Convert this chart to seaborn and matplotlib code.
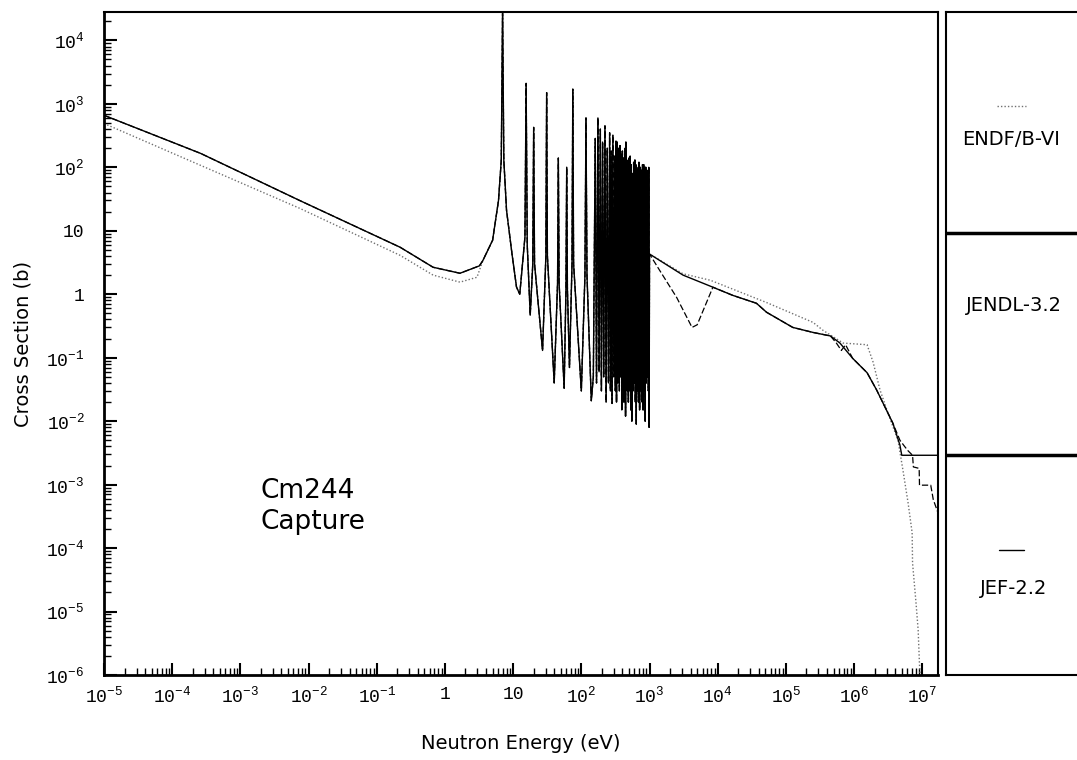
import numpy as np
import pandas as pd
import seaborn as sns
import matplotlib.pyplot as plt
from matplotlib.ticker import LogLocator, FuncFormatter, NullFormatter

# thermal / 1/v part (eV, barn)
jef_low_E = [1e-5, 2.6e-4, 7.4e-3, 0.22, 0.67, 1.66, 3.2]
jef_low_sig = [660, 166, 30, 5.5, 2.66, 2.14, 2.8]
endf_low_E = [1e-5, 7.4e-3, 0.22, 0.67, 1.66, 2.95]
endf_low_sig = [490, 22.6, 4.1, 2.0, 1.55, 1.85]

# resolved resonances, isolated ones (peak with shoulders and valleys)
res_E = [3.6, 5.0, 6.1, 6.7, 7.0, 7.3, 8.0, 9.6, 11.2, 12.5,
         14.9, 15.5, 16.1, 17.8, 19.4, 20.0, 20.6, 27, 30.2, 31, 31.8,
         40, 44.8, 46, 47.2, 56, 59.5, 61, 62.5, 67, 73, 75, 77,
         100, 113, 117, 121, 140]
res_sig = [3.4, 7.1, 30, 130, 3.0e4, 130, 21, 4.4, 1.3, 1.0,
           8, 2100, 6, 0.47, 3, 425, 3, 0.13, 4, 1500, 4,
           0.04, 1.5, 140, 1.5, 0.033, 1.2, 100, 1.2, 0.07, 3, 1700, 3,
           0.03, 2, 600, 2, 0.021]

# dense resonance block 150 eV - 1 keV (alternating valley / peak)
dense_E = [150, 160, 167, 175, 182, 190, 197, 205, 213, 222, 231, 240, 250, 260,
           267, 274, 282, 290, 300, 310, 316, 322, 328, 335, 343, 352, 361, 370,
           377, 385, 392, 400, 407, 415, 422, 430, 435, 440, 445, 450, 457, 465,
           472, 480, 490, 500, 510, 520, 530, 540, 550, 560, 572, 585, 597, 610,
           620, 630, 640, 650, 662, 675, 688, 700, 715, 730, 745, 760, 775, 790,
           805, 820, 835, 850, 865, 880, 897, 915, 932, 950, 962, 975, 987, 1000]
dense_sig = [0.05, 285, 0.04, 600, 0.06, 400, 0.03, 250, 0.05, 450, 0.02, 200, 0.04, 350,
             0.03, 180, 0.019, 320, 0.05, 150, 0.03, 260, 0.02, 250, 0.04, 200, 0.03, 220,
             0.05, 160, 0.015, 180, 0.04, 140, 0.02, 120, 0.05, 200, 0.012, 250, 0.04, 130,
             0.03, 90, 0.02, 140, 0.03, 150, 0.015, 110, 0.01, 80, 0.03, 120, 0.04, 130,
             0.02, 110, 0.009, 100, 0.03, 90, 0.02, 120, 0.015, 100, 0.03, 90, 0.02, 110,
             0.015, 110, 0.03, 100, 0.01, 100, 0.04, 90, 0.05, 80, 0.03, 100, 0.008, 4.3]

# unresolved / fast region
endf_hi_E = [3.1e3, 7.8e3, 5.2e4, 2.5e5, 3.5e5, 6.9e5, 1.55e6, 1.9e6, 2.4e6, 3.3e6,
             4.4e6, 5.2e6, 6.2e6, 7.1e6, 7.2e6, 8.1e6, 8.7e6, 9.1e6, 9.6e6]
endf_hi_sig = [2.1, 1.66, 0.74, 0.36, 0.27, 0.17, 0.16, 0.085, 0.031, 0.0115,
               5.0e-3, 1.7e-3, 5.1e-4, 1.74e-4, 5.8e-5, 1.35e-5, 5.1e-6, 1.45e-6, 7e-7]
jef_hi_E = [3.1e3, 8.5e3, 1.66e4, 3.7e4, 5.2e4, 1.26e5, 2.5e5, 4.5e5, 6.2e5, 9.5e5,
            1.55e6, 2.14e6, 3.7e6, 4.7e6, 5.0e6, 1.7e7]
jef_hi_sig = [2.0, 1.29, 0.96, 0.72, 0.52, 0.30, 0.25, 0.22, 0.17, 0.098,
              0.058, 0.031, 9.3e-3, 4.2e-3, 2.9e-3, 2.9e-3]
jendl_hi_E = [1.4e3, 2.5e3, 4.2e3, 5.0e3, 8.5e3, 1.66e4, 3.7e4, 5.2e4, 1.26e5, 2.5e5,
              4.5e5, 5.5e5, 6.5e5, 7.5e5, 9.5e5, 1.55e6, 2.14e6, 3.7e6, 4.7e6, 5.5e6,
              6.2e6, 7.2e6, 7.4e6, 9.0e6, 9.1e6, 1.33e7, 1.45e7, 1.7e7]
jendl_hi_sig = [2.4, 0.89, 0.30, 0.33, 1.29, 0.96, 0.72, 0.52, 0.30, 0.25,
                0.22, 0.17, 0.13, 0.16, 0.098, 0.058, 0.031, 9.3e-3, 5.0e-3, 4.0e-3,
                3.4e-3, 2.9e-3, 1.9e-3, 1.8e-3, 9.8e-4, 9.8e-4, 5.8e-4, 3.6e-4]

libs = ['ENDF/B-VI', 'JENDL-3.2', 'JEF-2.2']

def serie(parts):
    E, s = [], []
    for pe, ps in parts:
        E += list(pe)
        s += list(ps)
    return pd.DataFrame({'E': E, 'sig': s})

df_endf = serie([(endf_low_E, endf_low_sig), (res_E, res_sig), (dense_E, dense_sig),
                 (endf_hi_E, endf_hi_sig)])
df_jendl = serie([(jef_low_E, jef_low_sig), (res_E, res_sig), (dense_E, dense_sig),
                  (jendl_hi_E, jendl_hi_sig)])
df_jef = serie([(jef_low_E, jef_low_sig), (res_E, res_sig), (dense_E, dense_sig),
                (jef_hi_E, jef_hi_sig)])

sns.set_style('ticks')
plt.rcParams['font.family'] = ['DejaVu Sans']
plt.rcParams['mathtext.default'] = 'regular'
for k in ['text.color', 'axes.labelcolor', 'xtick.color', 'ytick.color', 'axes.edgecolor']:
    plt.rcParams[k] = 'black'

fig = plt.figure(figsize=(10.77, 7.6), dpi=100)
ax = fig.add_axes([104 / 1077, 85 / 760, 834 / 1077, 663 / 760])

sns.lineplot(data=df_endf, x='E', y='sig', ax=ax, sort=False, estimator=None,
             color='#707070', lw=1.0, linestyle=(0, (1, 1.5)))
sns.lineplot(data=df_jendl, x='E', y='sig', ax=ax, sort=False, estimator=None,
             color='black', lw=0.9, linestyle=(0, (5, 2)))
sns.lineplot(data=df_jef, x='E', y='sig', ax=ax, sort=False, estimator=None,
             color='black', lw=1.0)

ax.set_xscale('log')
ax.set_yscale('log')
ax.set_xlim(1e-5, 1.7e7)
ax.set_ylim(1e-6, 2.8e4)

def fmt_pot(v, pos):
    e = int(round(np.log10(v)))
    if e == 0:
        return '1'
    if e == 1:
        return '10'
    return r'$\mathregular{10^{%d}}$' % e

for eixo in (ax.xaxis, ax.yaxis):
    eixo.set_major_locator(LogLocator(base=10, numticks=30))
    eixo.set_minor_locator(LogLocator(base=10, subs=range(2, 10), numticks=300))
    eixo.set_major_formatter(FuncFormatter(fmt_pot))
    eixo.set_minor_formatter(NullFormatter())

ax.tick_params(which='major', direction='in', length=9, width=1.5,
               top=False, right=False, labelsize=13)
ax.tick_params(which='minor', direction='in', length=5, width=1, top=False, right=False)
ax.tick_params(axis='x', which='major', pad=8)
ax.tick_params(axis='y', which='major', pad=14)
for lab in ax.get_xticklabels() + ax.get_yticklabels():
    lab.set_family('Liberation Mono')

ax.spines['left'].set_linewidth(2)
ax.spines['bottom'].set_linewidth(2)
ax.spines['top'].set_linewidth(1.5)
ax.spines['right'].set_linewidth(1.5)

ax.set_xlabel('Neutron Energy (eV)', fontsize=14, labelpad=20)
ax.set_ylabel('Cross Section (b)', fontsize=14, labelpad=10)
ax.text(2e-3, 4.5e-4, 'Cm244\nCapture', fontsize=19, ha='left', va='center',
        linespacing=1.25)

# painel da legenda
lg = fig.add_axes([946 / 1077, 85 / 760, 0.14, 663 / 760])
lg.set_xlim(0, 1)
lg.set_ylim(0, 1)
lg.set_xticks([])
lg.set_yticks([])
for lado in ['left', 'top', 'bottom']:
    lg.spines[lado].set_linewidth(1.5)
lg.spines['right'].set_visible(False)
lg.axhline(0.667, color='black', lw=2.5)
lg.axhline(0.332, color='black', lw=2.5)

lg.plot([0.34, 0.53], [0.858, 0.858], color='#707070', lw=1.0, linestyle=(0, (1, 1.5)))
lg.plot([0.35, 0.52], [0.189, 0.189], color='black', lw=1.0)
lg.text(0.43, 0.808, libs[0], fontsize=14, ha='center', va='center')
lg.text(0.45, 0.558, libs[1], fontsize=14, ha='center', va='center')
lg.text(0.45, 0.131, libs[2], fontsize=14, ha='center', va='center')

plt.savefig('out.png', dpi=100)
plt.close()
